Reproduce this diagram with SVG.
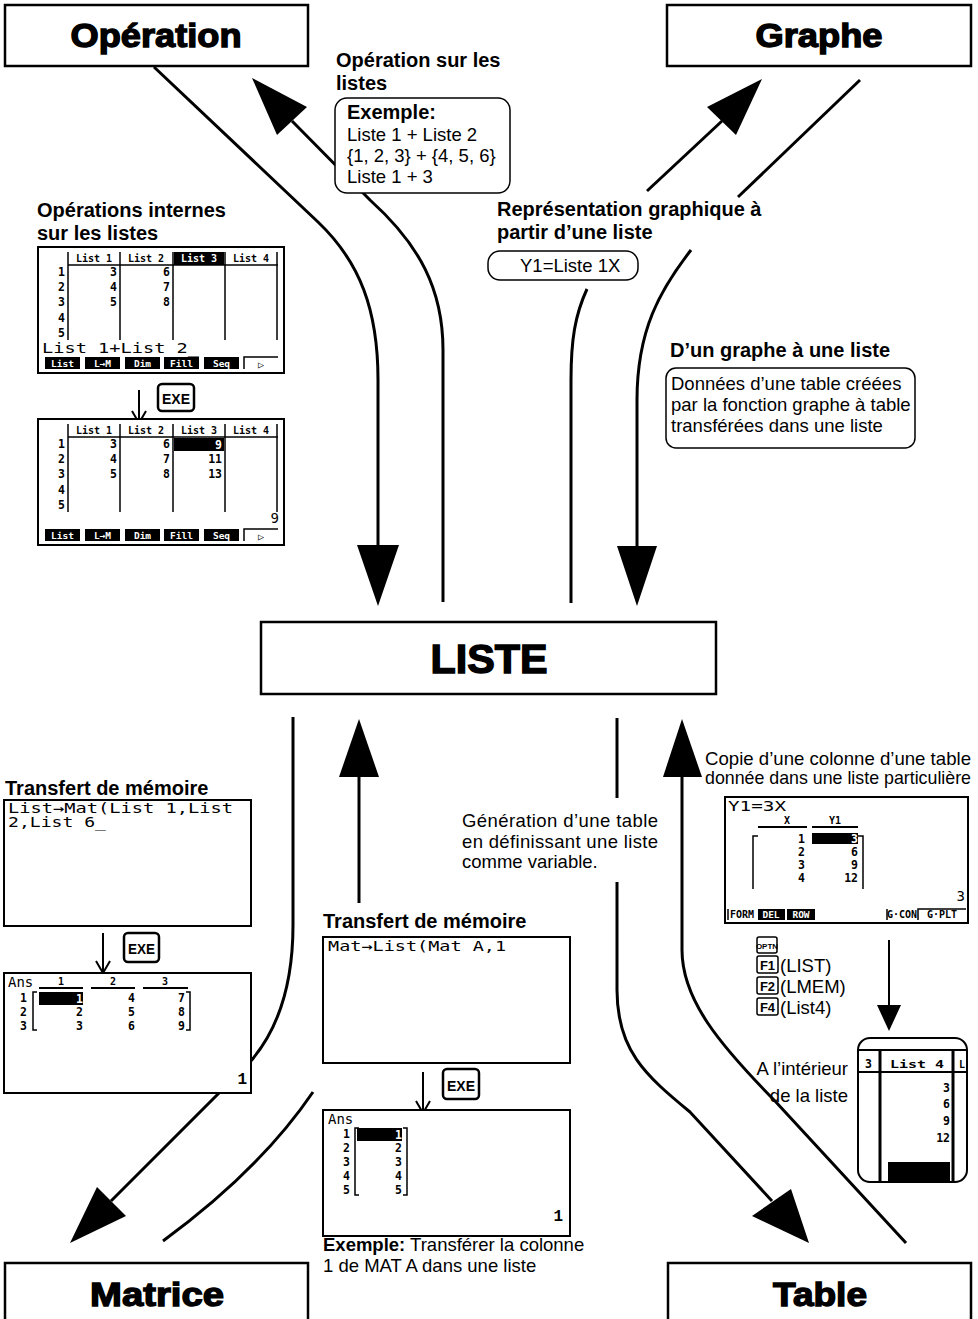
<svg xmlns="http://www.w3.org/2000/svg" width="978" height="1319" viewBox="0 0 978 1319">
<style>
.box{fill:#fff;stroke:#000;stroke-width:2.5}
.title{font-family:"Liberation Sans",Arial,sans-serif;font-weight:bold;stroke:#000;stroke-width:1.4;fill:#000;text-anchor:middle}
.lbl{font-family:"Liberation Sans",Arial,sans-serif;font-weight:bold;font-size:20px;fill:#000}
.txt{font-family:"Liberation Sans",Arial,sans-serif;font-size:18.5px;fill:#000}
.rbox{fill:#fff;stroke:#000;stroke-width:1.5}
.conn{fill:none;stroke:#000;stroke-width:3}
.scr{fill:#fff;stroke:#000;stroke-width:2}
.ln{stroke:#000;stroke-width:1.5;fill:none}
.big{font-family:"DejaVu Sans Mono",monospace;font-size:14px;fill:#000}
.hd{font-family:"DejaVu Sans Mono",monospace;font-size:10px;font-weight:bold;text-anchor:middle;fill:#000}
.num{font-family:"DejaVu Sans Mono",monospace;font-size:11.5px;font-weight:bold;text-anchor:end;fill:#000}
.sk{fill:#000}
.skt{font-family:"DejaVu Sans Mono",monospace;font-size:9.5px;font-weight:bold;fill:#fff;text-anchor:middle}
.key{fill:#fff;stroke:#000;stroke-width:2.5}
.keyt{font-family:"Liberation Sans",Arial,sans-serif;font-weight:bold;font-size:15px;text-anchor:middle}
.fk{fill:#fff;stroke:#000;stroke-width:1.5}
.fkt{font-family:"Liberation Sans",Arial,sans-serif;font-weight:bold;text-anchor:middle}
.arr{fill:none;stroke:#000;stroke-width:2}
.res{font-family:"Liberation Mono",monospace;font-weight:bold;font-size:16px;text-anchor:end}
</style>
<defs>
<clipPath id="zc"><rect x="858" y="1038" width="109" height="144" rx="12"/></clipPath>
</defs>
<rect width="978" height="1319" fill="#fff"/>

<g id="connectors">
<path class="conn" d="M154,67 L318,222 C360,262 378,310 378,380 L378,548"/>
<polygon points="357,545 399,545 378,606"/>
<path class="conn" d="M443,602 L443,350 C443,290 420,245 370,200 L292,121"/>
<polygon points="252,78 307,107 277,135"/>
<path class="conn" d="M571,603 L571,380 C571,340 575,315 587,289"/>
<path class="conn" d="M647,191 L722,121"/>
<polygon points="762,79 707,107 736,135"/>
<path class="conn" d="M860,80 L738,197"/>
<path class="conn" d="M691,250 C660,290 637,330 637,400 L637,548"/>
<polygon points="617,546 657,546 637,606"/>
<path class="conn" d="M293,717 L293,925 C293,985 278,1030 250,1062 L111,1201"/>
<polygon points="70,1243 97,1187 126,1216"/>
<path class="conn" d="M163,1241 Q260,1170 313,1092"/>
<path class="conn" d="M359,903 L359,775"/>
<polygon points="339,777 379,777 359,719"/>
<path class="conn" d="M617,718 L617,798"/>
<path class="conn" d="M617,882 L617,990 C617,1050 645,1075 690,1112 L772,1201"/>
<polygon points="809,1243 752,1216 791,1189"/>
<path class="conn" d="M906,1243 L775,1101 C720,1045 682,1000 682,950 L682,775"/>
<polygon points="663,777 702,777 682,719"/>
</g>

<g id="node-operation">
<rect class="box" x="5" y="5" width="303" height="61"/>
<text class="title" x="156" y="47" font-size="34" textLength="171" lengthAdjust="spacingAndGlyphs">Opération</text>
</g>
<g id="node-graphe">
<rect class="box" x="667" y="5" width="304" height="61"/>
<text class="title" x="819" y="47" font-size="34" textLength="127" lengthAdjust="spacingAndGlyphs">Graphe</text>
</g>
<g id="node-liste">
<rect class="box" x="261" y="622" width="455" height="72"/>
<text class="title" x="489" y="673" font-size="40" textLength="117" lengthAdjust="spacingAndGlyphs">LISTE</text>
</g>
<g id="node-matrice">
<rect class="box" x="5" y="1263" width="303" height="70"/>
<text class="title" x="157" y="1306" font-size="34" textLength="134" lengthAdjust="spacingAndGlyphs">Matrice</text>
</g>
<g id="node-table">
<rect class="box" x="668" y="1263" width="303" height="70"/>
<text class="title" x="820" y="1306" font-size="34" textLength="94" lengthAdjust="spacingAndGlyphs">Table</text>
</g>

<g id="label-operation-listes">
<text class="lbl" x="336" y="67">Opération sur les</text>
<text class="lbl" x="336" y="90">listes</text>
<rect class="rbox" x="335" y="98" width="175" height="95" rx="12"/>
<text class="lbl" x="347" y="119" font-size="18">Exemple:</text>
<text class="txt" x="347" y="141">Liste 1 + Liste 2</text>
<text class="txt" x="347" y="162">{1, 2, 3} + {4, 5, 6}</text>
<text class="txt" x="347" y="183">Liste 1 + 3</text>
</g>

<g id="label-representation">
<text class="lbl" x="497" y="216">Représentation graphique à</text>
<text class="lbl" x="497" y="239">partir d’une liste</text>
<rect class="rbox" x="488" y="251" width="150" height="29" rx="12"/>
<text class="txt" x="520" y="272">Y1=Liste 1X</text>
</g>

<g id="label-graphe-liste">
<text class="lbl" x="670" y="357">D’un graphe à une liste</text>
<rect class="rbox" x="666" y="368" width="249" height="80" rx="10"/>
<text class="txt" x="671" y="390">Données d’une table créées</text>
<text class="txt" x="671" y="411">par la fonction graphe à table</text>
<text class="txt" x="671" y="432">transférées dans une liste</text>
</g>

<g id="label-internes">
<text class="lbl" x="37" y="217">Opérations internes</text>
<text class="lbl" x="37" y="240">sur les listes</text>
</g>

<g id="screen-ops1" transform="translate(38,247)">
<rect class="scr" width="246" height="126"/>
<line class="ln" x1="30" y1="5" x2="30" y2="93"/>
<line class="ln" x1="82" y1="5" x2="82" y2="93"/>
<line class="ln" x1="135" y1="5" x2="135" y2="93"/>
<line class="ln" x1="187" y1="5" x2="187" y2="93"/>
<line class="ln" x1="239" y1="5" x2="239" y2="93" stroke-width="2.5"/>
<line class="ln" x1="30" y1="18" x2="240" y2="18"/>
<rect x="136" y="5" width="50" height="13" class="sk"/>
<text class="hd" x="56" y="15">List 1</text>
<text class="hd" x="108" y="15">List 2</text>
<text class="hd" x="161" y="15" style="fill:#fff">List 3</text>
<text class="hd" x="213" y="15">List 4</text>
<text class="num" x="27" y="29">1</text><text class="num" x="27" y="44">2</text><text class="num" x="27" y="59">3</text><text class="num" x="27" y="75">4</text><text class="num" x="27" y="90">5</text>
<text class="num" x="79" y="29">3</text><text class="num" x="79" y="44">4</text><text class="num" x="79" y="59">5</text>
<text class="num" x="132" y="29">6</text><text class="num" x="132" y="44">7</text><text class="num" x="132" y="59">8</text>
<text class="big" x="4" y="106" textLength="157" lengthAdjust="spacingAndGlyphs">List 1+List 2_</text>
<rect class="sk" x="7" y="110" width="35" height="12"/><text class="skt" x="24.5" y="120">List</text>
<rect class="sk" x="47" y="110" width="35" height="12"/><text class="skt" x="64.5" y="120">L→M</text>
<rect class="sk" x="87" y="110" width="35" height="12"/><text class="skt" x="104.5" y="120">Dim</text>
<rect class="sk" x="126" y="110" width="35" height="12"/><text class="skt" x="143.5" y="120">Fill</text>
<rect class="sk" x="166" y="110" width="35" height="12"/><text class="skt" x="183.5" y="120">Seq</text>
<path class="ln" d="M206,122 V110 H240"/><text class="hd" x="223" y="121" font-size="8">▷</text>
</g>

<g id="exe-1">
<path class="arr" d="M139,390 V423 M132,411 L139,423 L146,411"/>
<rect class="key" x="158" y="384" width="36" height="27" rx="4"/>
<text class="keyt" x="176" y="404" textLength="28" lengthAdjust="spacingAndGlyphs">EXE</text>
</g>

<g id="screen-ops2" transform="translate(38,419)">
<rect class="scr" width="246" height="126"/>
<line class="ln" x1="30" y1="5" x2="30" y2="93"/>
<line class="ln" x1="82" y1="5" x2="82" y2="93"/>
<line class="ln" x1="135" y1="5" x2="135" y2="93"/>
<line class="ln" x1="187" y1="5" x2="187" y2="93"/>
<line class="ln" x1="239" y1="5" x2="239" y2="93" stroke-width="2.5"/>
<line class="ln" x1="30" y1="18" x2="240" y2="18"/>
<text class="hd" x="56" y="15">List 1</text>
<text class="hd" x="108" y="15">List 2</text>
<text class="hd" x="161" y="15">List 3</text>
<text class="hd" x="213" y="15">List 4</text>
<text class="num" x="27" y="29">1</text><text class="num" x="27" y="44">2</text><text class="num" x="27" y="59">3</text><text class="num" x="27" y="75">4</text><text class="num" x="27" y="90">5</text>
<text class="num" x="79" y="29">3</text><text class="num" x="79" y="44">4</text><text class="num" x="79" y="59">5</text>
<text class="num" x="132" y="29">6</text><text class="num" x="132" y="44">7</text><text class="num" x="132" y="59">8</text>
<rect class="sk" x="136" y="19" width="50" height="13"/>
<text class="num" x="184" y="30" style="fill:#fff">9</text>
<text class="num" x="184" y="44">11</text><text class="num" x="184" y="59">13</text>
<text class="big" x="241" y="104" text-anchor="end">9</text>
<rect class="sk" x="7" y="110" width="35" height="12"/><text class="skt" x="24.5" y="120">List</text>
<rect class="sk" x="47" y="110" width="35" height="12"/><text class="skt" x="64.5" y="120">L→M</text>
<rect class="sk" x="87" y="110" width="35" height="12"/><text class="skt" x="104.5" y="120">Dim</text>
<rect class="sk" x="126" y="110" width="35" height="12"/><text class="skt" x="143.5" y="120">Fill</text>
<rect class="sk" x="166" y="110" width="35" height="12"/><text class="skt" x="183.5" y="120">Seq</text>
<path class="ln" d="M206,122 V110 H240"/><text class="hd" x="223" y="121" font-size="8">▷</text>
</g>

<g id="label-transfert-1">
<text class="lbl" x="5" y="795">Transfert de mémoire</text>
</g>
<g id="screen-listmat" transform="translate(4,800)">
<rect class="scr" width="247" height="126"/>
<text class="big" x="4" y="13" font-size="12.5" textLength="225" lengthAdjust="spacingAndGlyphs">List→Mat(List 1,List</text>
<text class="big" x="4" y="27" font-size="12.5" textLength="98" lengthAdjust="spacingAndGlyphs">2,List 6_</text>
</g>
<g id="exe-2">
<path class="arr" d="M103,933 V973 M96,961 L103,973 L110,961"/>
<rect class="key" x="124" y="933" width="35" height="29" rx="4"/>
<text class="keyt" x="141.5" y="954" textLength="27" lengthAdjust="spacingAndGlyphs">EXE</text>
</g>
<g id="screen-matans" transform="translate(4,973)">
<rect class="scr" width="247" height="120"/>
<text class="big" x="4" y="14" font-size="12">Ans</text>
<line x1="35" y1="15" x2="79" y2="15" stroke="#000" stroke-width="2"/>
<line x1="87" y1="15" x2="131" y2="15" stroke="#000" stroke-width="2"/>
<line x1="139" y1="15" x2="184" y2="15" stroke="#000" stroke-width="2"/>
<text class="hd" x="57" y="12">1</text><text class="hd" x="109" y="12">2</text><text class="hd" x="161" y="12">3</text>
<text class="num" x="23" y="29">1</text><text class="num" x="23" y="43">2</text><text class="num" x="23" y="57">3</text>
<path class="ln" d="M33,19 H29 V57 H33"/>
<path class="ln" d="M182,19 H186 V57 H182"/>
<rect class="sk" x="35" y="19" width="44" height="13"/>
<text class="num" x="79" y="30" style="fill:#fff">1</text>
<text class="num" x="79" y="43">2</text><text class="num" x="79" y="57">3</text>
<text class="num" x="131" y="29">4</text><text class="num" x="131" y="43">5</text><text class="num" x="131" y="57">6</text>
<text class="num" x="181" y="29">7</text><text class="num" x="181" y="43">8</text><text class="num" x="181" y="57">9</text>
<text class="res" x="243" y="111">1</text>
</g>

<g id="label-generation">
<text class="txt" x="462" y="827" textLength="196" lengthAdjust="spacing">Génération d’une table</text>
<text class="txt" x="462" y="848" textLength="196" lengthAdjust="spacing">en définissant une liste</text>
<text class="txt" x="462" y="868">comme variable.</text>
</g>

<g id="label-transfert-2">
<text class="lbl" x="323" y="928">Transfert de mémoire</text>
</g>
<g id="screen-matlist" transform="translate(323,937)">
<rect class="scr" width="247" height="126"/>
<text class="big" x="5" y="14" textLength="178" lengthAdjust="spacingAndGlyphs">Mat→List(Mat A,1</text>
</g>
<g id="exe-3">
<path class="arr" d="M423,1072 V1113 M416,1101 L423,1113 L430,1101"/>
<rect class="key" x="443" y="1069" width="36" height="30" rx="4"/>
<text class="keyt" x="461" y="1091" textLength="28" lengthAdjust="spacingAndGlyphs">EXE</text>
</g>
<g id="screen-listans" transform="translate(323,1110)">
<rect class="scr" width="247" height="126"/>
<text class="big" x="5" y="14" font-size="12">Ans</text>
<text class="num" x="27" y="28">1</text><text class="num" x="27" y="42">2</text><text class="num" x="27" y="56">3</text><text class="num" x="27" y="70">4</text><text class="num" x="27" y="84">5</text>
<path class="ln" d="M36,18 H32 V85 H36"/>
<path class="ln" d="M80,18 H84 V85 H80"/>
<rect class="sk" x="34" y="18" width="45" height="13"/>
<text class="num" x="79" y="29" style="fill:#fff">1</text>
<text class="num" x="79" y="42">2</text><text class="num" x="79" y="56">3</text><text class="num" x="79" y="70">4</text><text class="num" x="79" y="84">5</text>
<text class="res" x="240" y="111">1</text>
</g>
<g id="label-exemple">
<text class="txt" x="323" y="1251"><tspan font-weight="bold">Exemple:</tspan>  Transférer la colonne</text>
<text class="txt" x="323" y="1272">1 de MAT A dans une liste</text>
</g>

<g id="label-copie">
<text class="txt" x="705" y="765" textLength="266" lengthAdjust="spacingAndGlyphs">Copie d’une colonne d’une table</text>
<text class="txt" x="705" y="784" textLength="266" lengthAdjust="spacingAndGlyphs">donnée dans une liste particulière</text>
</g>
<g id="screen-table" transform="translate(725,797)">
<rect class="scr" width="243" height="126"/>
<text class="big" x="3" y="14" textLength="58" lengthAdjust="spacingAndGlyphs">Y1=3X</text>
<text class="hd" x="62" y="27" font-size="8">X</text><text class="hd" x="110" y="27" font-size="8">Y1</text>
<line x1="33" y1="30" x2="82" y2="30" stroke="#000" stroke-width="2"/>
<line x1="87" y1="30" x2="133" y2="30" stroke="#000" stroke-width="2"/>
<path class="ln" d="M33,39 H28 V92"/>
<path class="ln" d="M133,39 H138 V92"/>
<rect class="sk" x="87" y="36" width="46" height="11"/>
<text class="num" x="80" y="46">1</text><text class="num" x="80" y="59">2</text><text class="num" x="80" y="72">3</text><text class="num" x="80" y="85">4</text>
<text class="num" x="133" y="46" style="fill:#fff">3</text><text class="num" x="133" y="59">6</text><text class="num" x="133" y="72">9</text><text class="num" x="133" y="85">12</text>
<text class="big" x="240" y="104" text-anchor="end" font-size="13">3</text>
<path class="ln" d="M3,112 V123"/><text class="hd" x="17" y="121" font-size="8">FORM</text>
<rect class="sk" x="33" y="112" width="27" height="11"/><text class="skt" x="46" y="121" font-size="8.5">DEL</text>
<rect class="sk" x="62" y="112" width="28" height="11"/><text class="skt" x="76" y="121" font-size="8.5">ROW</text>
<path class="ln" d="M162,112 V123"/><text class="hd" x="177" y="121" font-size="8">G·CON</text>
<path class="ln" d="M193,123 V112 H241"/><text class="hd" x="217" y="121" font-size="8">G·PLT</text>
</g>

<g id="keys-optn">
<rect class="fk" x="757" y="937" width="20" height="16" rx="2"/>
<text class="fkt" x="767" y="949" font-size="8">OPTN</text>
<rect class="fk" x="757" y="956" width="21" height="17" rx="2"/>
<text class="fkt" x="767.5" y="970" font-size="13">F1</text>
<text class="txt" x="780" y="972" font-size="19.5">(LIST)</text>
<rect class="fk" x="757" y="977" width="21" height="17" rx="2"/>
<text class="fkt" x="767.5" y="991" font-size="13">F2</text>
<text class="txt" x="780" y="993" font-size="19.5">(LMEM)</text>
<rect class="fk" x="757" y="998" width="21" height="17" rx="2"/>
<text class="fkt" x="767.5" y="1012" font-size="13">F4</text>
<text class="txt" x="780" y="1014" font-size="19.5">(List4)</text>
<line x1="889" y1="940" x2="889" y2="1008" stroke="#000" stroke-width="2"/>
<polygon points="877,1005 901,1005 889,1031"/>
</g>

<g id="zoom-panel">
<g clip-path="url(#zc)">
<rect x="858" y="1038" width="109" height="144" fill="#fff"/>
<line x1="858" y1="1050" x2="967" y2="1050" stroke="#000" stroke-width="2"/>
<line x1="858" y1="1072" x2="967" y2="1072" stroke="#000" stroke-width="2"/>
<line x1="880" y1="1050" x2="880" y2="1185" stroke="#000" stroke-width="3"/>
<line x1="953" y1="1050" x2="953" y2="1185" stroke="#000" stroke-width="3"/>
<text class="num" x="872" y="1068" font-size="14">3</text>
<text class="hd" x="917" y="1068" font-size="14" textLength="54" lengthAdjust="spacingAndGlyphs">List 4</text>
<text class="hd" x="962" y="1068" font-size="14">L</text>
<text class="num" x="950" y="1092" font-size="15">3</text>
<text class="num" x="950" y="1108" font-size="15">6</text>
<text class="num" x="950" y="1125" font-size="15">9</text>
<text class="num" x="950" y="1142" font-size="15">12</text>
<rect x="888" y="1162" width="62" height="25" fill="#000"/>
</g>
<rect x="858" y="1038" width="109" height="144" rx="12" fill="none" stroke="#000" stroke-width="2"/>
<text class="txt" x="848" y="1075" text-anchor="end">A l’intérieur</text>
<text class="txt" x="848" y="1102" text-anchor="end">de la liste</text>
</g>
</svg>
